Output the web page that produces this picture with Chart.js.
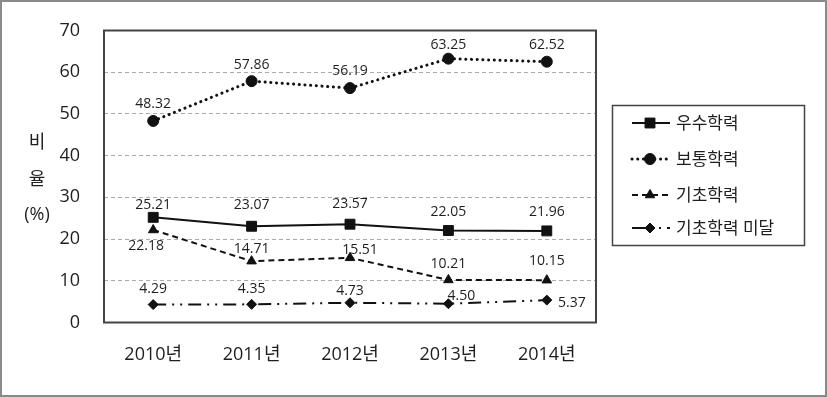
<!DOCTYPE html>
<html>
<head>
<meta charset="utf-8">
<script src="https://cdn.jsdelivr.net/npm/chart.js@4/dist/chart.umd.min.js"></script>
<style>
  html, body { margin: 0; padding: 0; background: #fff; }
  #wrap { width: 827px; height: 397px; }
</style>
</head>
<body>
<div id="wrap"><canvas id="c" width="827" height="397"></canvas></div>
<script>
const categories = ['2010년', '2011년', '2012년', '2013년', '2014년'];
const seriesNames = ['우수학력', '보통학력', '기초학력', '기초학력 미달'];
const excellent = [25.21, 23.07, 23.57, 22.05, 21.96];
const average = [48.32, 57.86, 56.19, 63.25, 62.52];
const basic = [22.18, 14.71, 15.51, 10.21, 10.15];
const belowBasic = [4.29, 4.35, 4.73, 4.50, 5.37];
const yTicks = [0, 10, 20, 30, 40, 50, 60, 70];
const yTitle = ['비', '율', '(%)'];

const FONT = "'Open Sans', 'Noto Sans CJK KR', sans-serif";
const TEXT = '#1e1e1e';
const INK = '#111';

const labelOffsets = [
  [[0,-12],[0,-21],[0,-20],[0,-19],[0,-19]],
  [[0,-17],[0,-16],[0,-17],[0,-14],[0,-17]],
  [[-7,16],[0,-12],[10,-8],[0,-16],[0,-19]],
  [[0,-16],[0,-15],[0,-12],[13,-8],[25,3]]
];

const styles = [
  { dash: [], cap: 'butt', width: 2, point: 'rect', radius: 7 },
  { dash: [0.1, 5.6], cap: 'round', width: 3, point: 'circle', radius: 5.5 },
  { dash: [6, 4], cap: 'butt', width: 2, point: 'triangle', radius: 5.5 },
  { dash: [13, 6, 2, 6, 2, 6], cap: 'butt', width: 2, point: 'rectRot', radius: 5 }
];

const values = [excellent, average, basic, belowBasic];

const datasets = values.map((v, i) => ({
  label: seriesNames[i],
  data: v,
  borderColor: INK,
  backgroundColor: INK,
  borderWidth: styles[i].width,
  borderDash: styles[i].dash,
  borderCapStyle: styles[i].cap,
  pointStyle: styles[i].point,
  pointRadius: styles[i].radius,
  pointHoverRadius: styles[i].radius,
  pointBorderWidth: 1,
  pointBackgroundColor: INK,
  pointBorderColor: INK,
  tension: 0,
  fill: false
}));

const framePlugin = {
  id: 'frame',
  beforeDraw(chart) {
    const ctx = chart.ctx;
    ctx.save();
    ctx.fillStyle = '#fff';
    ctx.fillRect(0, 0, chart.width, chart.height);
    ctx.strokeStyle = '#8a8a8a';
    ctx.lineWidth = 2;
    ctx.strokeRect(1, 1, chart.width - 2, chart.height - 2);
    ctx.restore();
  },
  beforeDatasetsDraw(chart) {
    const a = chart.chartArea;
    const ctx = chart.ctx;
    ctx.save();
    ctx.strokeStyle = '#444';
    ctx.lineWidth = 2;
    ctx.strokeRect(a.left, a.top, a.right - a.left, a.bottom - a.top);
    ctx.restore();
  },
  afterDatasetsDraw(chart) {
    const ctx = chart.ctx;
    ctx.save();
    ctx.font = '14px ' + FONT;
    ctx.fillStyle = TEXT;
    ctx.textAlign = 'center';
    ctx.textBaseline = 'middle';
    chart.data.datasets.forEach((ds, i) => {
      const meta = chart.getDatasetMeta(i);
      meta.data.forEach((pt, j) => {
        const off = labelOffsets[i][j];
        ctx.fillText(ds.data[j].toFixed(2), pt.x + off[0], pt.y + off[1]);
      });
    });
    ctx.font = '18px ' + FONT;
    const ty = [143, 180, 215];
    yTitle.forEach((t, k) => ctx.fillText(t, 37, ty[k]));
    const lx = 612, ly = 105, lw = 192, lh = 140;
    ctx.strokeStyle = '#444';
    ctx.lineWidth = 1.5;
    ctx.strokeRect(lx + 0.5, ly + 0.5, lw, lh);
    const rows = [123, 159, 195, 228];
    ctx.font = '17px ' + FONT;
    ctx.textAlign = 'left';
    seriesNames.forEach((name, i) => {
      const y = rows[i];
      const st = styles[i];
      ctx.save();
      ctx.strokeStyle = INK;
      ctx.lineWidth = st.width;
      ctx.lineCap = st.cap;
      ctx.setLineDash(st.dash);
      ctx.beginPath();
      ctx.moveTo(632, y);
      ctx.lineTo(670, y);
      ctx.stroke();
      ctx.restore();
      ctx.save();
      ctx.fillStyle = INK;
      ctx.strokeStyle = INK;
      ctx.lineWidth = 1;
      Chart.helpers.drawPoint(ctx, { pointStyle: st.point, radius: st.radius, borderWidth: 1 }, 650, y);
      ctx.restore();
      ctx.fillStyle = TEXT;
      ctx.fillText(name, 676, y + 1);
    });
    ctx.restore();
  }
};

new Chart(document.getElementById('c'), {
  type: 'line',
  data: { labels: categories, datasets },
  plugins: [framePlugin],
  options: {
    responsive: false,
    animation: false,
    devicePixelRatio: 1,
    layout: { padding: { left: 0, right: 231, top: 30.5, bottom: 24.5 } },
    plugins: { legend: { display: false }, tooltip: { enabled: false } },
    scales: {
      x: {
        type: 'category',
        offset: true,
        grid: { display: false, drawTicks: false },
        border: { display: false },
        ticks: { color: TEXT, font: { size: 18, family: FONT }, padding: 22, maxRotation: 0 },
        afterFit(s) { s.height = 50; s.paddingLeft = 0; s.paddingRight = 0; }
      },
      y: {
        min: 0, max: 70,
        afterBuildTicks(s) { s.ticks = yTicks.map(v => ({ value: v })); },
        grid: {
          drawTicks: false,
          lineWidth: 1,
          color: ctx => (ctx.tick && (ctx.tick.value === 0 || ctx.tick.value === 70)) ? 'rgba(0,0,0,0)' : '#ababab'
        },
        border: { display: false, dash: [4, 3] },
        ticks: { color: TEXT, font: { size: 18, family: FONT }, padding: 24 },
        afterFit(s) { s.width = 104; s.paddingTop = 11; s.paddingBottom = 11; }
      }
    }
  }
});
</script>
</body>
</html>
